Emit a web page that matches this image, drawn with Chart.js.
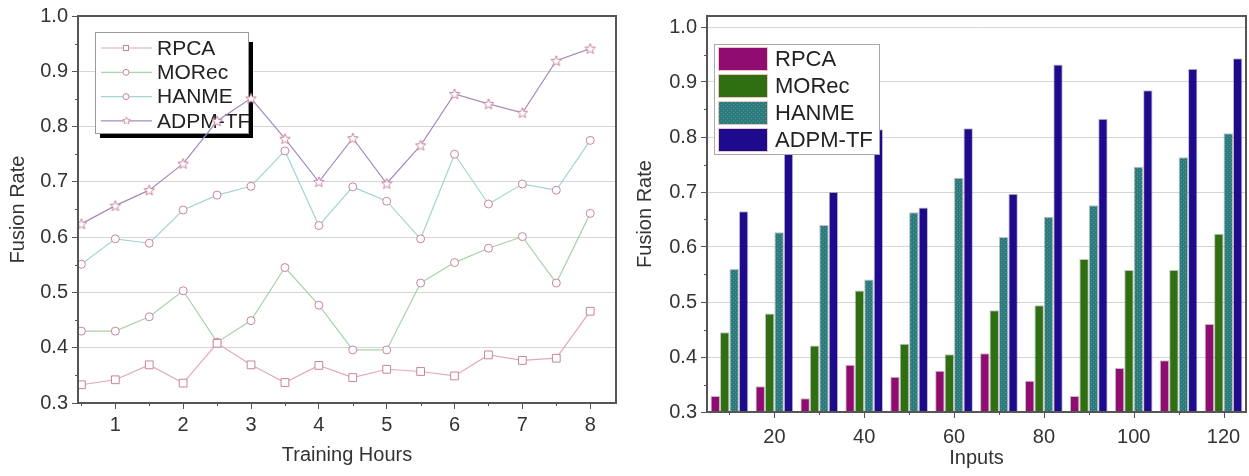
<!DOCTYPE html>
<html>
<head>
<meta charset="utf-8">
<script src="https://cdn.jsdelivr.net/npm/chart.js@4.4.1/dist/chart.umd.min.js"></script>
<style>
  body { margin: 0; background: #fff; }
  #wrap { position: relative; width: 1249px; height: 476px; }
  #wrap canvas { position: absolute; top: 0; }
</style>
</head>
<body>
<div id="wrap">
  <canvas id="lineChart" width="625" height="476" style="left:0"></canvas>
  <canvas id="barChart" width="624" height="476" style="left:625px"></canvas>
</div>
<script>
// ---- data ----
const seriesNames = ['RPCA', 'MORec', 'HANME', 'ADPM-TF'];

const hours = [0.5, 1, 1.5, 2, 2.5, 3, 3.5, 4, 4.5, 5, 5.5, 6, 6.5, 7, 7.5, 8];
const rpcaHours  = [0.333, 0.342, 0.369, 0.336, 0.408, 0.369, 0.337, 0.368, 0.346, 0.361, 0.357, 0.349, 0.387, 0.377, 0.381, 0.466];
const morecHours = [0.430, 0.430, 0.456, 0.503, 0.410, 0.449, 0.545, 0.477, 0.396, 0.396, 0.517, 0.554, 0.580, 0.601, 0.517, 0.643];
const hanmeHours = [0.551, 0.597, 0.589, 0.649, 0.676, 0.692, 0.756, 0.621, 0.691, 0.665, 0.597, 0.750, 0.660, 0.696, 0.685, 0.775];
const adpmHours  = [0.624, 0.657, 0.685, 0.733, 0.810, 0.851, 0.778, 0.700, 0.779, 0.697, 0.766, 0.859, 0.841, 0.825, 0.919, 0.941];

const inputs = ['10', '20', '30', '40', '50', '60', '70', '80', '90', '100', '110', '120'];
const rpcaInputs  = [0.329, 0.347, 0.325, 0.386, 0.364, 0.375, 0.407, 0.357, 0.329, 0.380, 0.394, 0.460];
const morecInputs = [0.445, 0.479, 0.421, 0.521, 0.424, 0.405, 0.485, 0.494, 0.578, 0.558, 0.558, 0.624];
const hanmeInputs = [0.560, 0.627, 0.640, 0.541, 0.663, 0.726, 0.618, 0.655, 0.676, 0.746, 0.763, 0.807];
const adpmInputs  = [0.665, 0.780, 0.700, 0.814, 0.672, 0.816, 0.697, 0.932, 0.833, 0.885, 0.924, 0.943];

const rateTicks = [0.3, 0.4, 0.5, 0.6, 0.7, 0.8, 0.9, 1.0];
const rateMinorTicks = [0.35, 0.45, 0.55, 0.65, 0.75, 0.85, 0.95];
const hourTicks = [1, 2, 3, 4, 5, 6, 7, 8];
const hourMinorTicks = [0.5, 1.5, 2.5, 3.5, 4.5, 5.5, 6.5, 7.5];
const inputTickLabels = ['20', '40', '60', '80', '100', '120'];

// ---- look ----
Chart.defaults.font.family = '"Liberation Sans", Arial, sans-serif';
Chart.defaults.color = '#333';

const lineColors = ['#e2a9bc', '#a6d4a6', '#a2d6d2', '#a58bbb'];
const markerColor = '#c9849d';
const barColors = ['#910c71', '#2f6f12', '#2d7a7c', '#1e0a8c'];
const axisColor = '#555';
const gridColor = '#d6d6d6';

function starMarker() {
  const c = document.createElement('canvas');
  c.width = 12; c.height = 12;
  const g = c.getContext('2d');
  g.beginPath();
  for (let i = 0; i < 10; i++) {
    const r = i % 2 ? 2.4 : 5.5;
    const a = -Math.PI / 2 + i * Math.PI / 5;
    g.lineTo(6 + r * Math.cos(a), 6.4 + r * Math.sin(a));
  }
  g.closePath();
  g.fillStyle = '#fff';
  g.fill();
  g.strokeStyle = markerColor;
  g.lineWidth = 1;
  g.stroke();
  return c;
}

function dotPattern() {
  const c = document.createElement('canvas');
  c.width = 4; c.height = 4;
  const g = c.getContext('2d');
  g.fillStyle = barColors[2];
  g.fillRect(0, 0, 4, 4);
  g.fillStyle = '#4f9c9c';
  g.fillRect(0, 0, 1, 1);
  g.fillRect(2, 2, 1, 1);
  return g.createPattern(c, 'repeat');
}

// frame + minor ticks drawn from the scales
const frameTicks = {
  id: 'frameTicks',
  afterDraw(chart, args, opts) {
    const { ctx, chartArea: a, scales } = chart;
    ctx.save();
    ctx.strokeStyle = axisColor;
    ctx.lineWidth = 1;
    ctx.beginPath();
    opts.yMinor.forEach(v => {
      const y = Math.round(scales.y.getPixelForValue(v)) + 0.5;
      ctx.moveTo(a.left - 3, y); ctx.lineTo(a.left, y);
    });
    opts.xMajor.forEach(v => {
      const x = Math.round(scales.x.getPixelForValue(v)) + 0.5;
      ctx.moveTo(x, a.bottom); ctx.lineTo(x, a.bottom + 6);
    });
    opts.xMinor.forEach(v => {
      const x = Math.round(scales.x.getPixelForValue(v)) + 0.5;
      ctx.moveTo(x, a.bottom); ctx.lineTo(x, a.bottom + 3);
    });
    ctx.stroke();
    ctx.lineWidth = 2;
    ctx.strokeRect(a.left, a.top, a.right - a.left, a.bottom - a.top);
    ctx.restore();
  }
};

const lineLegend = {
  id: 'lineLegend',
  beforeDatasetsDraw(chart) {
    const ctx = chart.ctx;
    const x = 95, y = 32, w = 153, h = 101;
    ctx.save();
    ctx.fillStyle = '#000';
    ctx.fillRect(x + 5, y + 10, w, h - 5);
    ctx.fillStyle = '#fff';
    ctx.fillRect(x, y, w, h);
    ctx.strokeStyle = '#999';
    ctx.lineWidth = 1;
    ctx.strokeRect(x + 0.5, y + 0.5, w, h);
    ctx.font = '21px "Liberation Sans", Arial, sans-serif';
    ctx.textBaseline = 'middle';
    chart.data.datasets.forEach((ds, i) => {
      const cy = 48 + i * 24.3;
      ctx.strokeStyle = ds.borderColor;
      ctx.lineWidth = 1.2;
      ctx.beginPath();
      ctx.moveTo(101, cy); ctx.lineTo(152, cy);
      ctx.stroke();
      const style = ds.pointStyle;
      ctx.strokeStyle = markerColor;
      ctx.fillStyle = '#fff';
      ctx.lineWidth = 1;
      if (style === 'rect') {
        ctx.fillRect(123, cy - 3, 6, 6);
        ctx.strokeRect(123.5, cy - 2.5, 5, 5);
      } else if (style === 'circle') {
        ctx.beginPath(); ctx.arc(126, cy, 3, 0, Math.PI * 2); ctx.fill(); ctx.stroke();
      } else {
        ctx.drawImage(style, 122, cy - 5, 9, 9);
      }
      ctx.fillStyle = '#222';
      ctx.fillText(ds.label, 157, cy + 1);
    });
    ctx.restore();
  }
};

const barLegend = {
  id: 'barLegend',
  afterDatasetsDraw(chart) {
    const ctx = chart.ctx;
    const x = 89.5, y = 44.5, w = 165, h = 110;
    ctx.save();
    ctx.fillStyle = '#fff';
    ctx.fillRect(x, y, w, h);
    ctx.strokeStyle = '#aaa';
    ctx.lineWidth = 1;
    ctx.strokeRect(x, y, w, h);
    ctx.font = '22px "Liberation Sans", Arial, sans-serif';
    ctx.textBaseline = 'middle';
    chart.data.datasets.forEach((ds, i) => {
      const top = 47 + i * 27;
      ctx.fillStyle = ds.backgroundColor;
      ctx.fillRect(93, top, 50, 24);
      ctx.strokeStyle = '#e8c8c0';
      ctx.strokeRect(93.5, top + 0.5, 49, 23);
      ctx.fillStyle = '#222';
      ctx.fillText(ds.label, 150, top + 13);
    });
    ctx.restore();
  }
};

function rateAxis(width, max, titlePad, gridMax) {
  return {
    type: 'linear',
    min: 0.3,
    max: max,
    afterFit: s => { s.width = width; },
    afterBuildTicks: s => { s.ticks = rateTicks.map(v => ({ value: v })); },
    border: { display: false },
    grid: {
      color: c => (c.tick && c.tick.value > 0.31 && c.tick.value < gridMax) ? gridColor : 'rgba(0,0,0,0)',
      tickColor: axisColor,
      tickLength: 6
    },
    ticks: { font: { size: 20 }, padding: 4, callback: v => Number(v).toFixed(1) },
    title: { display: true, text: 'Fusion Rate', font: { size: 20 }, padding: { top: titlePad, bottom: 0 } }
  };
}

// ---- left: line chart ----
const star = starMarker();
const lineSeries = [rpcaHours, morecHours, hanmeHours, adpmHours];
const lineStyles = ['rect', 'circle', 'circle', star];
const lineRadius = [5.5, 4, 4, 6];

new Chart(document.getElementById('lineChart'), {
  type: 'line',
  data: {
    datasets: lineSeries.map((vals, i) => ({
      label: seriesNames[i],
      data: hours.map((h, k) => ({ x: h, y: vals[k] })),
      borderColor: lineColors[i],
      borderWidth: 1.2,
      pointStyle: lineStyles[i],
      pointRadius: lineRadius[i],
      pointBorderColor: markerColor,
      pointBackgroundColor: '#fff',
      pointBorderWidth: 1,
      tension: 0
    }))
  },
  options: {
    responsive: false,
    devicePixelRatio: 1,
    animation: false,
    layout: { padding: { left: 0, top: 12, right: 9, bottom: 0 } },
    plugins: {
      legend: { display: false },
      tooltip: { enabled: false },
      frameTicks: { yMinor: rateMinorTicks, xMajor: [], xMinor: hourMinorTicks }
    },
    scales: {
      x: {
        type: 'linear',
        min: 0.45,
        max: 8.38,
        afterFit: s => { s.height = 73; },
        afterBuildTicks: s => { s.ticks = hourTicks.map(v => ({ value: v })); },
        border: { display: false },
        grid: { drawOnChartArea: false, tickColor: axisColor, tickLength: 6 },
        ticks: { font: { size: 20 }, padding: 4, maxRotation: 0 },
        title: { display: true, text: 'Training Hours', font: { size: 20 }, padding: { top: 0, bottom: 9 } }
      },
      y: rateAxis(78, 1.0, 6, 0.99)
    }
  },
  plugins: [frameTicks, lineLegend]
});

// ---- right: bar chart ----
const pattern = dotPattern();
const barSeries = [rpcaInputs, morecInputs, hanmeInputs, adpmInputs];

new Chart(document.getElementById('barChart'), {
  type: 'bar',
  data: {
    labels: inputs,
    datasets: barSeries.map((vals, i) => ({
      label: seriesNames[i],
      data: vals,
      backgroundColor: i === 2 ? pattern : barColors[i],
      borderColor: 'rgba(0,0,0,0.25)',
      borderWidth: 1,
      barPercentage: 1,
      categoryPercentage: 0.84
    }))
  },
  options: {
    responsive: false,
    devicePixelRatio: 1,
    animation: false,
    layout: { padding: { left: 0, top: 14, right: 3, bottom: 0 } },
    plugins: {
      legend: { display: false },
      tooltip: { enabled: false },
      frameTicks: {
        yMinor: rateMinorTicks,
        xMajor: inputs.map((l, i) => i).filter(i => inputTickLabels.includes(inputs[i])),
        xMinor: inputs.map((l, i) => i).filter(i => !inputTickLabels.includes(inputs[i]))
      }
    },
    scales: {
      x: {
        afterFit: s => { s.height = 64; },
        border: { display: false },
        grid: { display: false },
        ticks: {
          font: { size: 20 },
          padding: 5,
          autoSkip: false,
          maxRotation: 0,
          callback: function (v) {
            const l = this.getLabelForValue(v);
            return inputTickLabels.includes(l) ? l : '';
          }
        },
        title: { display: true, text: 'Inputs', font: { size: 20 }, padding: { top: 0, bottom: 6 } }
      },
      y: rateAxis(82, 1.02, 8, 1.01)
    }
  },
  plugins: [frameTicks, barLegend]
});
</script>
</body>
</html>
